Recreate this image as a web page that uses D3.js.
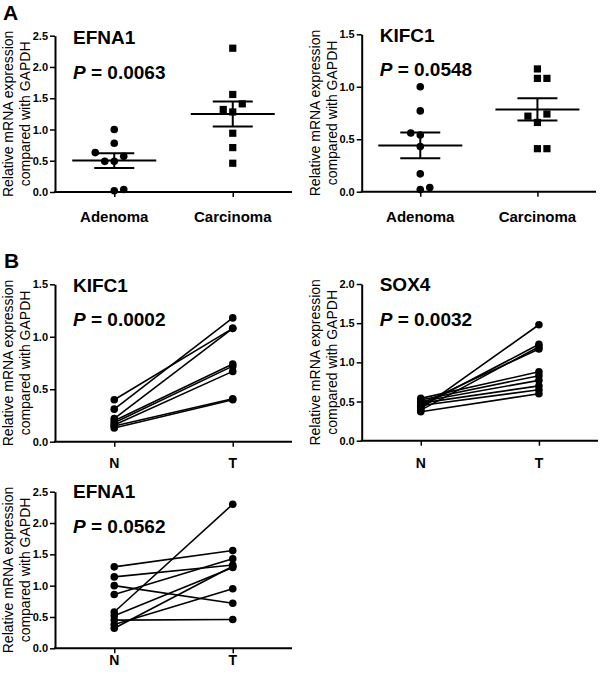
<!DOCTYPE html>
<html>
<head>
<meta charset="utf-8">
<script src="https://cdn.jsdelivr.net/npm/d3@7"></script>
<style>
  html, body { margin: 0; padding: 0; background: #fff; }
  svg { display: block; }
  text { font-family: Arial, "Liberation Sans", sans-serif; fill: #000; }
</style>
</head>
<body>
<svg id="chart" width="600" height="674"></svg>
<script>
// ---------------- DATA ----------------
const groupCategories = ["Adenoma", "Carcinoma"];
const pairCategories = ["N", "T"];
const yAxisLabel = ["Relative mRNA expression", "compared with GAPDH"];

// Panel A – EFNA1
const efnaAdenoma = [1.00, 0.78, 0.63, 0.57, 0.49, 0.49, 0.02, 0.04];
const efnaAdenomaSlot = [0, 0, -2, 1, -1, 0, 0, 1];
const efnaCarcinoma = [2.30, 1.56, 1.41, 1.32, 1.28, 0.94, 0.71, 0.46];
const efnaCarcinomaSlot = [0, 0, 1, -1, 0, 0, 0, 0];
// Panel A – KIFC1
const kifAdenoma = [1.00, 0.77, 0.56, 0.54, 0.43, 0.17, 0.02, 0.04];
const kifAdenomaSlot = [0, 0, -1, 0, 0, 0, 0, 1];
const kifCarcinoma = [1.17, 1.08, 1.08, 0.72, 0.74, 0.66, 0.41, 0.41];
const kifCarcinomaSlot = [0, 0, 1, -1, 1, 0, 0, 1];

// Panel B – paired N / T
const kifN = [0.40, 0.31, 0.22, 0.20, 0.18, 0.16, 0.15, 0.13];
const kifT = [1.08, 1.18, 1.08, 0.74, 0.72, 0.67, 0.41, 0.40];
const soxN = [0.41, 0.44, 0.39, 0.47, 0.54, 0.52, 0.50, 0.48, 0.45, 0.37];
const soxT = [1.48, 1.23, 1.20, 1.17, 0.88, 0.83, 0.77, 0.70, 0.65, 0.60];
const efnN = [1.30, 1.14, 1.00, 0.86, 0.58, 0.52, 0.45, 0.38, 0.32];
const efnT = [1.56, 1.33, 0.72, 1.43, 2.30, 1.29, 0.46, 0.95, 1.31];

const titles = ["EFNA1", "KIFC1", "KIFC1", "SOX4", "EFNA1"];
const pValues = ["0.0063", "0.0548", "0.0002", "0.0032", "0.0562"];
const yMaxes = [2.5, 1.5, 1.5, 2.0, 2.5];

// ---------------- DRAWING ----------------
const svg = d3.select("#chart");
const FONT = 'Arial, "Liberation Sans", sans-serif';

const layouts = [
  { x0: 55,    x1: 292, yTop: 35.7,  yBot: 192,   cats: groupCategories, catBase: 221.5, catSize: 15, titleY: 44,   pY: 79 },
  { x0: 361.7, x1: 596, yTop: 34.3,  yBot: 191.7, cats: groupCategories, catBase: 221.5, catSize: 15, titleY: 42,   pY: 76 },
  { x0: 55,    x1: 292, yTop: 284.3, yBot: 441.7, cats: pairCategories,  catBase: 467.5, catSize: 14, titleY: 292,  pY: 326 },
  { x0: 361.7, x1: 598, yTop: 284,   yBot: 440.7, cats: pairCategories,  catBase: 467.5, catSize: 14, titleY: 291,  pY: 326 },
  { x0: 55,    x1: 292, yTop: 491.7, yBot: 648.3, cats: pairCategories,  catBase: 665,   catSize: 14, titleY: 498,  pY: 533 }
];

function drawFrame(i) {
  const L = layouts[i];
  const g = svg.append("g");
  const x = d3.scalePoint().domain(L.cats).range([L.x0, L.x1]).padding(0.5);
  const y = d3.scaleLinear().domain([0, yMaxes[i]]).range([L.yBot, L.yTop]);

  // y axis
  const yAxis = d3.axisLeft(y)
    .tickValues(d3.range(0, yMaxes[i] + 0.001, 0.5))
    .tickFormat(d3.format(".1f"))
    .tickSizeInner(5).tickSizeOuter(0).tickPadding(2);
  const ya = g.append("g").attr("transform", `translate(${L.x0},0)`).call(yAxis);
  ya.select(".domain").attr("stroke", "#000").attr("stroke-width", 2);
  ya.selectAll(".tick line").attr("stroke", "#000").attr("stroke-width", 1.5);
  ya.selectAll(".tick text").attr("font-size", 11).attr("font-weight", "bold")
    .attr("font-family", FONT).attr("fill", "#000");

  // x axis
  const xAxis = d3.axisBottom(x).tickSizeInner(5).tickSizeOuter(0).tickFormat("");
  const xa = g.append("g").attr("transform", `translate(0,${L.yBot})`).call(xAxis);
  xa.select(".domain").attr("stroke", "#000").attr("stroke-width", 2)
    .attr("d", `M${L.x0 - 1},0H${L.x1}`);
  xa.selectAll(".tick line").attr("stroke", "#000").attr("stroke-width", 1.5);

  // category labels
  g.selectAll("text.cat").data(L.cats).join("text").attr("class", "cat")
    .attr("x", d => x(d)).attr("y", L.catBase)
    .attr("text-anchor", "middle").attr("font-size", L.catSize).attr("font-weight", "bold")
    .text(d => d);

  // y axis title (rotated, two lines)
  const cy = (L.yTop + L.yBot) / 2;
  yAxisLabel.forEach((t, k) => {
    g.append("text")
      .attr("transform", `translate(${L.x0 - 42 + k * 17},${cy}) rotate(-90)`)
      .attr("text-anchor", "middle").attr("font-size", 14)
      .text(t);
  });

  // gene title and P value
  g.append("text").attr("x", L.x0 + 18).attr("y", L.titleY)
    .attr("font-size", 19).attr("font-weight", "bold").text(titles[i]);
  const pt = g.append("text").attr("x", L.x0 + 18).attr("y", L.pY)
    .attr("font-size", 19).attr("font-weight", "bold");
  pt.append("tspan").attr("font-style", "italic").text("P");
  pt.append("tspan").text(" = " + pValues[i]);

  return { g, x, y };
}

const SLOT = 9.5;

function drawScatter(i, groups) {
  const { g, x, y } = drawFrame(i);
  groups.forEach(([cat, vals, slots, shape]) => {
    const cx = x(cat);
    const pts = vals.map((v, k) => ({ v, s: slots[k] }));
    if (shape === "circle") {
      g.selectAll(null).data(pts).join("circle")
        .attr("cx", d => cx + d.s * SLOT).attr("cy", d => y(d.v)).attr("r", 3.8)
        .attr("fill", "#000");
    } else {
      g.selectAll(null).data(pts).join("rect")
        .attr("x", d => cx + d.s * SLOT - 3.6).attr("y", d => y(d.v) - 3.6)
        .attr("width", 7.2).attr("height", 7.2).attr("fill", "#000");
    }
    const m = d3.mean(vals);
    const sem = d3.deviation(vals) / Math.sqrt(vals.length);
    const gs = g.append("g").attr("stroke", "#000").attr("stroke-width", 2);
    gs.append("line").attr("x1", cx - 42).attr("x2", cx + 42).attr("y1", y(m)).attr("y2", y(m));
    gs.append("line").attr("x1", cx - 20).attr("x2", cx + 20).attr("y1", y(m + sem)).attr("y2", y(m + sem));
    gs.append("line").attr("x1", cx - 20).attr("x2", cx + 20).attr("y1", y(m - sem)).attr("y2", y(m - sem));
    gs.append("line").attr("x1", cx).attr("x2", cx).attr("y1", y(m + sem)).attr("y2", y(m - sem));
  });
}

function drawPaired(i, nVals, tVals) {
  const { g, x, y } = drawFrame(i);
  const pairs = nVals.map((n, k) => [n, tVals[k]]);
  g.selectAll(null).data(pairs).join("line")
    .attr("x1", x("N")).attr("x2", x("T"))
    .attr("y1", d => y(d[0])).attr("y2", d => y(d[1]))
    .attr("stroke", "#000").attr("stroke-width", 1.6);
  const pts = [];
  pairs.forEach(p => { pts.push(["N", p[0]]); pts.push(["T", p[1]]); });
  g.selectAll(null).data(pts).join("circle")
    .attr("cx", d => x(d[0])).attr("cy", d => y(d[1])).attr("r", 3.8)
    .attr("fill", "#000");
}

drawScatter(0, [["Adenoma", efnaAdenoma, efnaAdenomaSlot, "circle"],
                ["Carcinoma", efnaCarcinoma, efnaCarcinomaSlot, "square"]]);
drawScatter(1, [["Adenoma", kifAdenoma, kifAdenomaSlot, "circle"],
                ["Carcinoma", kifCarcinoma, kifCarcinomaSlot, "square"]]);
drawPaired(2, kifN, kifT);
drawPaired(3, soxN, soxT);
drawPaired(4, efnN, efnT);

// panel letters
svg.append("text").attr("x", 3).attr("y", 19.5).attr("font-size", 21).attr("font-weight", "bold").text("A");
svg.append("text").attr("x", 4).attr("y", 268).attr("font-size", 21).attr("font-weight", "bold").text("B");
</script>
</body>
</html>
